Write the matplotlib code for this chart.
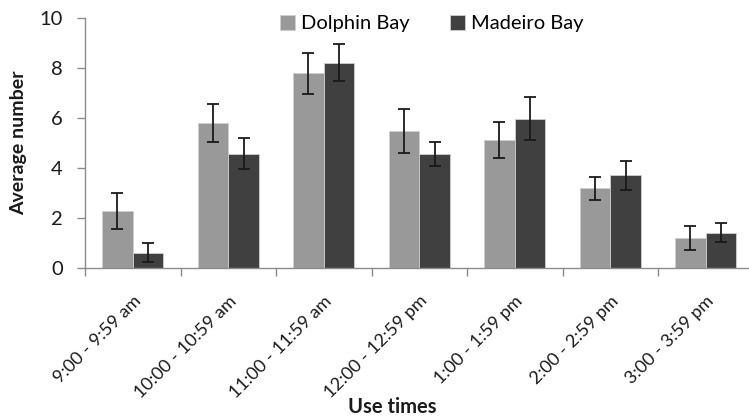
import numpy as np
import matplotlib
matplotlib.use("Agg")
import matplotlib.pyplot as plt

plt.rcParams['font.family'] = ['Lato', 'DejaVu Sans']

use_times = ["9:00 - 9:59 am", "10:00 - 10:59 am", "11:00 - 11:59 am",
             "12:00 - 12:59 pm", "1:00 - 1:59 pm", "2:00 - 2:59 pm", "3:00 - 3:59 pm"]
dolphin = [2.26, 5.78, 7.77, 5.47, 5.10, 3.17, 1.19]
dolphin_err = [0.73, 0.77, 0.83, 0.87, 0.72, 0.46, 0.47]
madeiro = [0.60, 4.56, 8.19, 4.56, 5.96, 3.69, 1.40]
madeiro_err = [0.37, 0.63, 0.74, 0.48, 0.85, 0.58, 0.37]

W, H = 749, 419
fig = plt.figure(figsize=(W / 100, H / 100), dpi=100)
ax = fig.add_axes([85 / W, (H - 267.7) / H, 668.5 / W, 250 / H])

x = np.arange(len(use_times))
bw = 0.32
err_kw = dict(ecolor='#1a1a1a', elinewidth=1.3, capsize=4.3, capthick=1.3)
ax.bar(x - bw / 2, dolphin, bw, yerr=dolphin_err, color='#999999',
       edgecolor='#cfcfcf', linewidth=0.6, error_kw=err_kw, label='Dolphin Bay')
ax.bar(x + bw / 2, madeiro, bw, yerr=madeiro_err, color='#404040',
       edgecolor='#cfcfcf', linewidth=0.6, error_kw=err_kw, label='Madeiro Bay')

ax.set_xlim(-0.5, len(use_times) - 0.5)
ax.set_ylim(0, 10)
ax.set_yticks(range(0, 11, 2))

for side in ['top', 'right']:
    ax.spines[side].set_visible(False)
for side in ['left', 'bottom']:
    ax.spines[side].set_color('#8c8c8c')
    ax.spines[side].set_linewidth(1.0)

ax.tick_params(axis='y', length=6, width=1.0, color='#8c8c8c',
               labelsize=14.5, labelcolor='#1a1a1a', pad=10)

# category ticks sit between groups, labels at group centres
ax.set_xticks(np.arange(-0.5, len(use_times), 1.0))
ax.set_xticklabels([])
ax.tick_params(axis='x', which='major', length=6, width=1.0, color='#8c8c8c')
ax.set_xticks(x, minor=True)
ax.set_xticklabels(use_times, minor=True, rotation=45, ha='right',
                   rotation_mode='anchor', fontsize=13, color='#1a1a1a')
ax.tick_params(axis='x', which='minor', length=0, pad=18)

ax.set_ylabel('Average number', fontsize=14, fontweight='bold',
              color='#1a1a1a', labelpad=9)
fig.text(392 / W, 1 - 407 / H, 'Use times', fontsize=14.5, fontweight='bold',
         color='#1a1a1a', ha='center', va='center')

ax.legend(loc='upper center', bbox_to_anchor=(432 / W, 1 - 7 / H),
          bbox_transform=fig.transFigure, ncol=2, frameon=False,
          fontsize=14.5, handlelength=0.75, handleheight=0.75,
          handletextpad=0.3, columnspacing=2.0, borderaxespad=0)

fig.savefig('out.png', dpi=100)
